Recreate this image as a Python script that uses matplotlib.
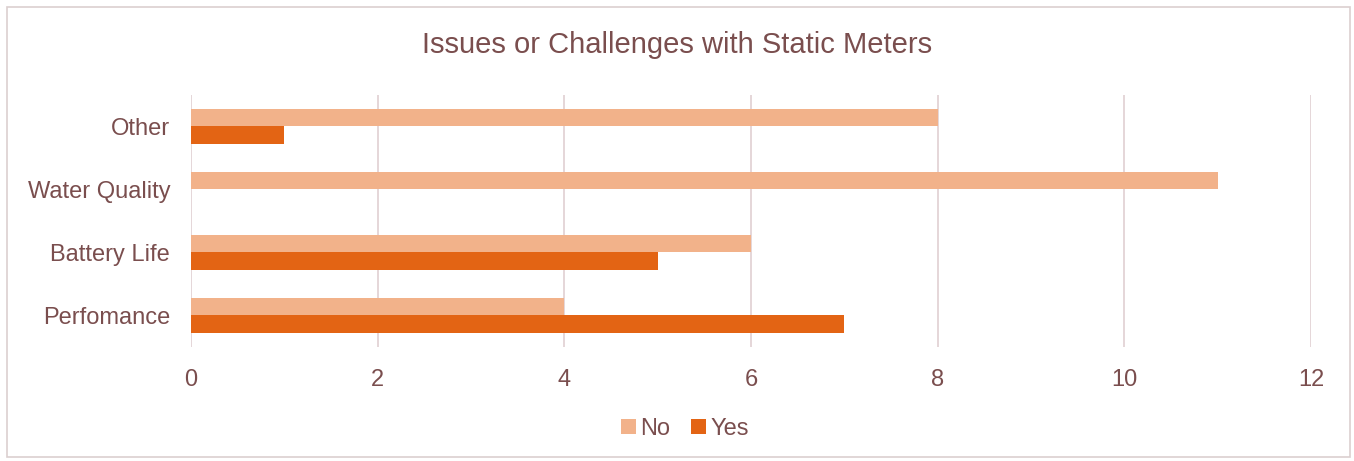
import numpy as np
import matplotlib.pyplot as plt
from matplotlib.patches import Rectangle

plt.rcParams['font.family'] = ['Liberation Sans', 'DejaVu Sans']

# data
categories = ['Perfomance', 'Battery Life', 'Water Quality', 'Other']
no_values = [4, 6, 11, 8]
yes_values = [7, 5, 0, 1]
x_ticks = [0, 2, 4, 6, 8, 10, 12]

text_col = '#7A4E4E'
grid_col = '#E3D3D5'
no_col = '#F2B28A'
yes_col = '#E36414'

fig = plt.figure(figsize=(13.54, 4.61), dpi=100)
fig.patches.append(Rectangle((7 / 1354, 4 / 461), 1343 / 1354, 450 / 461,
                             transform=fig.transFigure, fill=False,
                             edgecolor='#DCCFCF', linewidth=1.2))

ax = fig.add_axes([191 / 1354, 1 - 347 / 461, 1120 / 1354, 252 / 461])

y = np.arange(len(categories))
h = 0.27
ax.barh(y + h / 2, no_values, height=h, color=no_col, label='No', zorder=3)
ax.barh(y - h / 2, yes_values, height=h, color=yes_col, label='Yes', zorder=3)

ax.set_xlim(0, 12)
ax.set_ylim(-0.5, 3.5)
ax.set_xticks(x_ticks)
ax.set_yticks(y)
ax.set_yticklabels(categories)
ax.xaxis.grid(True, color=grid_col, linewidth=1.3, zorder=0)
ax.tick_params(axis='both', length=0, labelsize=17, colors=text_col)
ax.tick_params(axis='x', pad=16)
ax.tick_params(axis='y', pad=15)
for s in ax.spines.values():
    s.set_visible(False)

fig.text(0.5, 1 - 45 / 461, 'Issues or Challenges with Static Meters',
         ha='center', va='center', fontsize=21, color=text_col)

leg = fig.legend(loc='center', bbox_to_anchor=(0.506, 1 - 429 / 461), ncol=2,
                 frameon=False, fontsize=17, handlelength=0.6, handleheight=0.6,
                 handletextpad=0.2, columnspacing=0.9)
for t in leg.get_texts():
    t.set_color(text_col)

fig.savefig('out.png', dpi=100)
